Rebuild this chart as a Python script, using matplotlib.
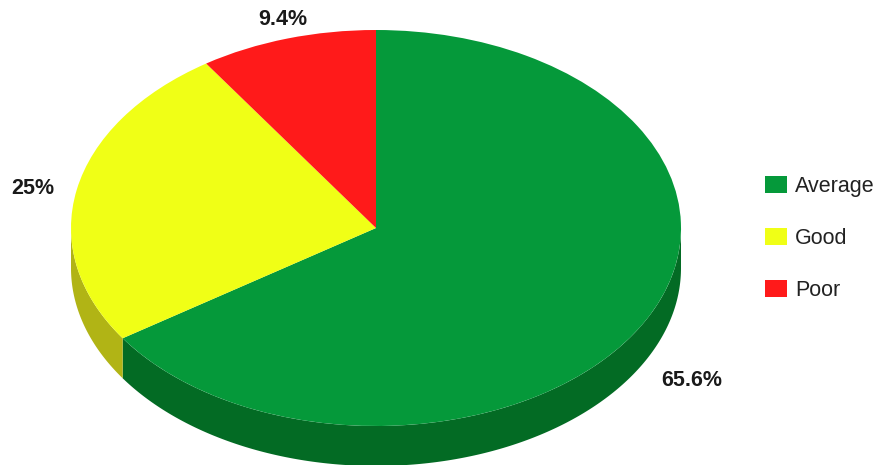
import numpy as np
import matplotlib
matplotlib.use("Agg")
import matplotlib.pyplot as plt
from matplotlib.patches import Patch

# data
labels = ["Average", "Good", "Poor"]
values = [65.6, 25.0, 9.4]
pct_text = ["65.6%", "25%", "9.4%"]

top_colors = ["#05993a", "#f0ff16", "#ff1a1a"]
side_colors = ["#036b24", "#b1b415", "#b31212"]

plt.rcParams["font.family"] = ["Liberation Sans", "DejaVu Sans"]

W, H = 881, 465
fig = plt.figure(figsize=(W / 100, H / 100), dpi=100)
ax = fig.add_axes([0, 0, 1, 1])

# ellipse geometry in pixels
cx, cy, rx, ry = 376, 228, 305, 198
depth = 40 / ry

# side walls (front half only)
start = 90.0
angles = []
for v in values:
    t2 = start
    t1 = start - v / sum(values) * 360
    angles.append((t1, t2))
    start = t1

for (t1, t2), col in zip(angles, side_colors):
    # bring into [0, 360) range and clip to lower half 180..360
    a1, a2 = t1 % 360, t1 % 360 + (t2 - t1)
    for off in (0, 360, -360):
        lo = max(a1 + off, 180)
        hi = min(a2 + off, 360)
        if hi > lo:
            th = np.radians(np.linspace(lo, hi, 200))
            xs = np.concatenate([np.cos(th), np.cos(th[::-1])])
            ys = np.concatenate([np.sin(th), np.sin(th[::-1]) - depth])
            ax.fill(xs, ys, color=col, lw=0)

# top face
ax.pie(values, colors=top_colors, startangle=90, counterclock=False, radius=1,
       wedgeprops=dict(linewidth=0))

ax.set_aspect("auto")
ax.set_xlim(-cx / rx, (W - cx) / rx)
ax.set_ylim(-(H - cy) / ry, cy / ry)
ax.axis("off")

# percentage labels
label_px = [(692, 381), (33, 188), (283, 19)]
for txt, (px, py) in zip(pct_text, label_px):
    ax.text((px - cx) / rx, (cy - py) / ry, txt, ha="center", va="center",
            fontsize=15.5, fontweight="bold", color="#1a1a1a")

handles = [Patch(facecolor=c, edgecolor="none") for c in top_colors]
fig.legend(handles, labels, loc="center left", bbox_to_anchor=(765 / W, 1 - 238.5 / H),
           frameon=False, fontsize=15.5, handlelength=1.0, handleheight=0.85,
           handletextpad=0.4, labelspacing=1.45, borderpad=0, borderaxespad=0,
           labelcolor="#222222")

fig.savefig("out.png", dpi=100)
